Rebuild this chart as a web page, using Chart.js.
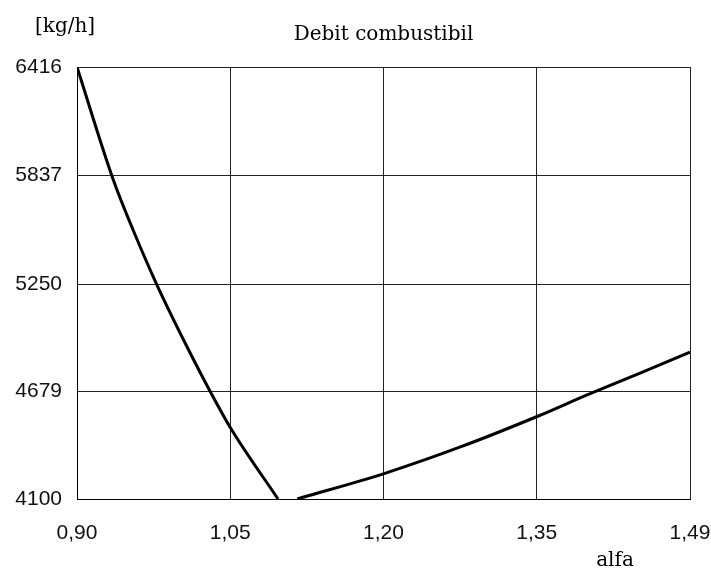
<!DOCTYPE html>
<html>
<head>
<meta charset="utf-8">
<title>Debit combustibil</title>
<script src="https://cdn.jsdelivr.net/npm/chart.js@4"></script>
<style>
    html, body { margin: 0; padding: 0; background: #fff; }
    #chart { display: block; }
</style>
</head>
<body>
<canvas id="chart" width="711" height="569"></canvas>
<script>
// Debit combustibil vs alfa

const alfa = [0.90, 0.935, 0.954, 0.977, 1.006, 1.030, 1.049, 1.0935, 1.10, 1.112, 1.197, 1.269, 1.344, 1.391, 1.442, 1.49];
const debit = [6416, 5810, 5542, 5247, 4915, 4658, 4470, 4100, null, 4100, 4239, 4379, 4545, 4658, 4775, 4888];

const xTickLabels = ['0,90', '1,05', '1,20', '1,35', '1,49'];
const yTicks = [4100, 4679, 5250, 5837, 6416];

const titleText = 'Debit combustibil';
const yUnit = '[kg/h]';
const xName = 'alfa';

const points = alfa.map((a, i) => ({ x: a, y: debit[i] }));

// extra texts round the plot
const textPlugin = {
    id: 'texts',
    afterDraw(chart) {
        const ctx = chart.ctx;
        const area = chart.chartArea;
        ctx.save();
        ctx.fillStyle = '#000';
        ctx.font = '20px "DejaVu Serif"';
        ctx.textBaseline = 'alphabetic';
        ctx.textAlign = 'center';
        ctx.fillText(titleText, (area.left + area.right) / 2, 40);
        ctx.textAlign = 'left';
        ctx.fillText(yUnit, 35, 32);
        ctx.textAlign = 'center';
        ctx.fillText(xName, 615, 566);
        ctx.restore();
    }
};

const ctx = document.getElementById('chart').getContext('2d');
new Chart(ctx, {
    type: 'line',
    data: {
        datasets: [{
            data: points,
            borderColor: '#000',
            borderWidth: 3,
            pointRadius: 0,
            cubicInterpolationMode: 'monotone',
            spanGaps: false,
            fill: false
        }]
    },
    options: {
        responsive: false,
        animation: false,
        devicePixelRatio: 1,
        layout: { padding: { top: 67, right: 0, left: 0, bottom: 0 } },
        plugins: {
            legend: { display: false },
            tooltip: { enabled: false },
            title: { display: false }
        },
        scales: {
            x: {
                type: 'linear',
                min: alfa[0],
                max: alfa[alfa.length - 1],
                afterBuildTicks(scale) {
                    const n = xTickLabels.length;
                    scale.ticks = xTickLabels.map((l, i) => ({ value: scale.min + i * (scale.max - scale.min) / (n - 1) }));
                },
                afterFit(scale) {
                    scale.height = 70;
                    scale.paddingLeft = 0;
                    scale.paddingRight = 21;
                },
                grid: { color: '#222', lineWidth: 1, drawTicks: false },
                border: { display: true, color: '#000', width: 1 },
                ticks: {
                    padding: 22,
                    maxRotation: 0,
                    autoSkip: false,
                    color: '#111',
                    font: { family: '"Liberation Sans"', size: 21 },
                    callback: (v, i) => xTickLabels[i]
                }
            },
            y: {
                type: 'linear',
                min: yTicks[0],
                max: yTicks[yTicks.length - 1],
                afterBuildTicks(scale) {
                    scale.ticks = yTicks.map(v => ({ value: v }));
                },
                afterFit(scale) { scale.width = 77; },
                grid: { color: '#222', lineWidth: 1, drawTicks: false },
                border: { display: true, color: '#000', width: 1 },
                ticks: {
                    padding: 15,
                    autoSkip: false,
                    color: '#111',
                    font: { family: '"Liberation Sans"', size: 21 },
                    callback: (v) => String(v)
                }
            }
        }
    },
    plugins: [textPlugin]
});
</script>
</body>
</html>
